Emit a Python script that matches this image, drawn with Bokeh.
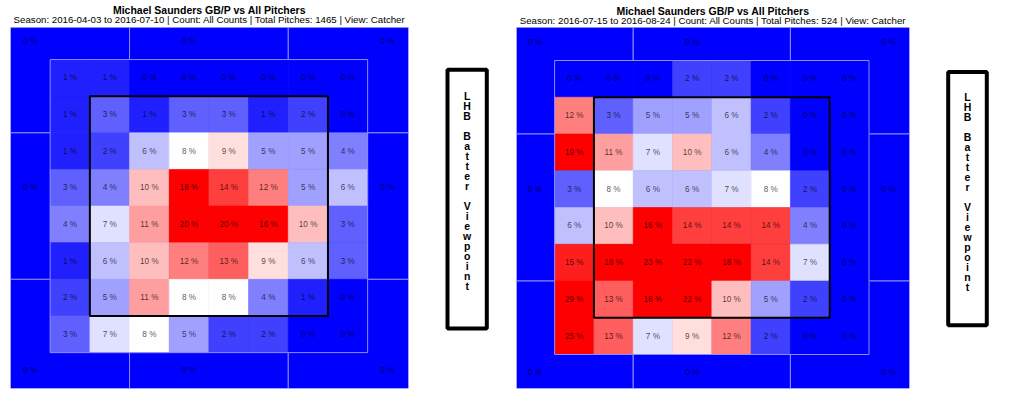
from bokeh.plotting import figure
from bokeh.models import Range1d, LinearColorMapper, ColumnDataSource, BoxAnnotation
from bokeh.layouts import row
from bokeh.embed import file_html
from bokeh.resources import INLINE
from bokeh.core.properties import value

FONT = "Liberation Sans"

# ---------------- data ----------------
main_title = "Michael Saunders GB/P vs All Pitchers"
left_subtitle = "Season: 2016-04-03 to 2016-07-10 | Count: All Counts | Total Pitches: 1465 | View: Catcher"
right_subtitle = "Season: 2016-07-15 to 2016-08-24 | Count: All Counts | Total Pitches: 524 | View: Catcher"
side_label = "LHB Batter Viewpoint"

# inner 8x8 zone percentages, rows top -> bottom, columns left -> right
left_rows = [
    [1, 1, 0, 0, 0, 0, 0, 0],
    [1, 3, 1, 3, 3, 1, 2, 0],
    [1, 2, 6, 8, 9, 5, 5, 4],
    [3, 4, 10, 18, 14, 12, 5, 6],
    [4, 7, 11, 20, 20, 16, 10, 3],
    [1, 6, 10, 12, 13, 9, 6, 3],
    [2, 5, 11, 8, 8, 4, 1, 0],
    [3, 7, 8, 5, 2, 2, 0, 0],
]
right_rows = [
    [0, 0, 0, 2, 2, 0, 0, 0],
    [12, 3, 5, 5, 6, 2, 0, 0],
    [19, 11, 7, 10, 6, 4, 0, 0],
    [3, 8, 6, 6, 7, 8, 2, 0],
    [6, 10, 16, 14, 14, 14, 4, 0],
    [15, 18, 23, 22, 18, 14, 7, 0],
    [29, 13, 18, 22, 10, 5, 2, 0],
    [25, 13, 7, 9, 12, 2, 0, 0],
]
# outer (chase) zones: top-left, top, top-right, left, right, bottom-left, bottom, bottom-right
outer_zone_names = ["TL", "T", "TR", "L", "R", "BL", "B", "BR"]
left_outer_pct = [0, 0, 0, 0, 0, 0, 0, 0]
right_outer_pct = [0, 0, 0, 0, 0, 0, 0, 0]

# ---------------- layout constants ----------------
FIG_H = 395
BOTTOM = 7
FRAME_H = FIG_H - BOTTOM
outer_label_pos = [-0.5, 3.5, 8.5]   # where the outer labels sit (cell units)
strike_zone = (1, 7)                 # strike zone in cell units
outer_line = "#8c8cff"

# blue -> white -> red palette
palette = []
for i in range(256):
    t = i / 255
    if t <= 0.5:
        c = int(round(255 * t / 0.5))
        palette.append("#%02x%02x%02x" % (c, c, 255))
    else:
        c = int(round(255 * (1 - (t - 0.5) / 0.5)))
        palette.append("#%02x%02x%02x" % (255, c, c))
mapper = LinearColorMapper(palette=palette, low=0, high=16)


def heatmap(rows, outer_pct, subtitle, width, frame_l, frame_r, xr, yr,
            outer_top, title_px):
    p = figure(width=width, height=FIG_H, x_range=Range1d(*xr), y_range=Range1d(*yr),
               min_border_left=frame_l, min_border_right=frame_r,
               min_border_top=0, min_border_bottom=BOTTOM,
               x_axis_location=None, y_axis_location=None,
               toolbar_location=None, output_backend="svg", title=None,
               outline_line_color=None, background_fill_color="white")
    p.xgrid.visible = False
    p.ygrid.visible = False

    def px_to_y(px):  # page pixel row inside the frame -> data y
        return yr[1] + (yr[0] - yr[1]) * px / FRAME_H

    xc = (xr[0] + xr[1]) / 2
    p.text(x=[xc], y=[px_to_y(title_px[0])], text=[main_title], text_font=value(FONT),
           text_font_size="10.5px", text_font_style="bold", text_align="center",
           text_baseline="alphabetic", text_color="black")
    p.text(x=[xc], y=[px_to_y(title_px[1])], text=[subtitle], text_font=value(FONT),
           text_font_size="9.7px", text_align="center",
           text_baseline="alphabetic", text_color="black")

    # outer 3x3 zones
    edges_x = [xr[0], 2, 6, xr[1]]
    edges_y = [outer_top, 2, 6, yr[0]]
    ol, orr, ot, ob = [], [], [], []
    for r in range(3):
        for c in range(3):
            ol.append(edges_x[c]); orr.append(edges_x[c + 1])
            ot.append(edges_y[r]); ob.append(edges_y[r + 1])
    p.quad(left=ol, right=orr, top=ot, bottom=ob, fill_color="#0000ff",
           line_color=outer_line, line_width=1)

    # outer labels
    lx, ly, lt = [], [], []
    k = 0
    for r in range(3):
        for c in range(3):
            if r == 1 and c == 1:
                continue
            lx.append(outer_label_pos[c]); ly.append(outer_label_pos[r])
            lt.append("%d %%" % outer_pct[k]); k += 1
    p.text(x=lx, y=ly, text=lt, text_font=value(FONT), text_font_size="8.2px",
           text_align="center", text_baseline="middle", text_color="black", text_alpha=0.7)

    # inner 8x8 cells
    xs, ys, vals, labels = [], [], [], []
    for r, rowvals in enumerate(rows):
        for c, v in enumerate(rowvals):
            xs.append(c); ys.append(r); vals.append(v); labels.append("%d %%" % v)
    src = ColumnDataSource(dict(left=xs, right=[x + 1 for x in xs], top=ys,
                                bottom=[y + 1 for y in ys], xc=[x + 0.5 for x in xs],
                                yc=[y + 0.5 for y in ys], pct=vals, label=labels))
    p.quad(left="left", right="right", top="top", bottom="bottom", source=src,
           fill_color={"field": "pct", "transform": mapper},
           line_color={"field": "pct", "transform": mapper}, line_width=0.6)
    p.quad(left=[0], right=[len(rows[0])], top=[0], bottom=[len(rows)],
           fill_color=None, line_color=outer_line, line_width=1)
    p.quad(left=[strike_zone[0]], right=[strike_zone[1]], top=[strike_zone[0]],
           bottom=[strike_zone[1]], fill_color=None, line_color="black", line_width=2)
    p.text(x="xc", y="yc", text="label", source=src, text_font=value(FONT),
           text_font_size="8.2px", text_align="center", text_baseline="middle",
           text_color="black", text_alpha=0.7)
    return p


def side_box(x0, width, box, text_y):
    # figure whose data space equals page pixels, so the framed label box can be placed
    b = figure(width=width, height=FIG_H,
               x_range=Range1d(x0, x0 + width), y_range=Range1d(FRAME_H, 0),
               min_border_left=0, min_border_right=0,
               min_border_top=0, min_border_bottom=BOTTOM,
               x_axis_location=None, y_axis_location=None,
               toolbar_location=None, output_backend="svg", title=None,
               outline_line_color=None)
    b.xgrid.visible = False
    b.ygrid.visible = False
    left, right, top, bottom = box
    b.add_layout(BoxAnnotation(left=left, right=right, top=top, bottom=bottom,
                               fill_color=None, fill_alpha=0, line_color="black",
                               line_width=4, line_alpha=1))
    b.text(x=[(left + right) / 2], y=[text_y], text=["\n".join(side_label)],
           text_font=value(FONT), text_font_style="bold", text_font_size="10.5px",
           text_align="center", text_baseline="middle", text_line_height=0.83,
           text_color="black")
    return b


f1 = heatmap(left_rows, left_outer_pct, left_subtitle, 430, 10, 22,
             (-1, 9.03), (8.98, -1.612), -0.874, (9.5, 19.3))
b1 = side_box(430, 80, (447, 486.3, 69.3, 328), 190.5)
f2 = heatmap(right_rows, right_outer_pct, right_subtitle, 420, 6, 21,
             (-0.97, 9.03), (8.925, -1.633), -0.898, (10, 20))
b2 = side_box(930, 80, (947.7, 986.3, 71.5, 324.7), 191.5)

layout = row(f1, b1, f2, b2, margin=0)
open("out.html", "w").write(file_html(layout, INLINE))
